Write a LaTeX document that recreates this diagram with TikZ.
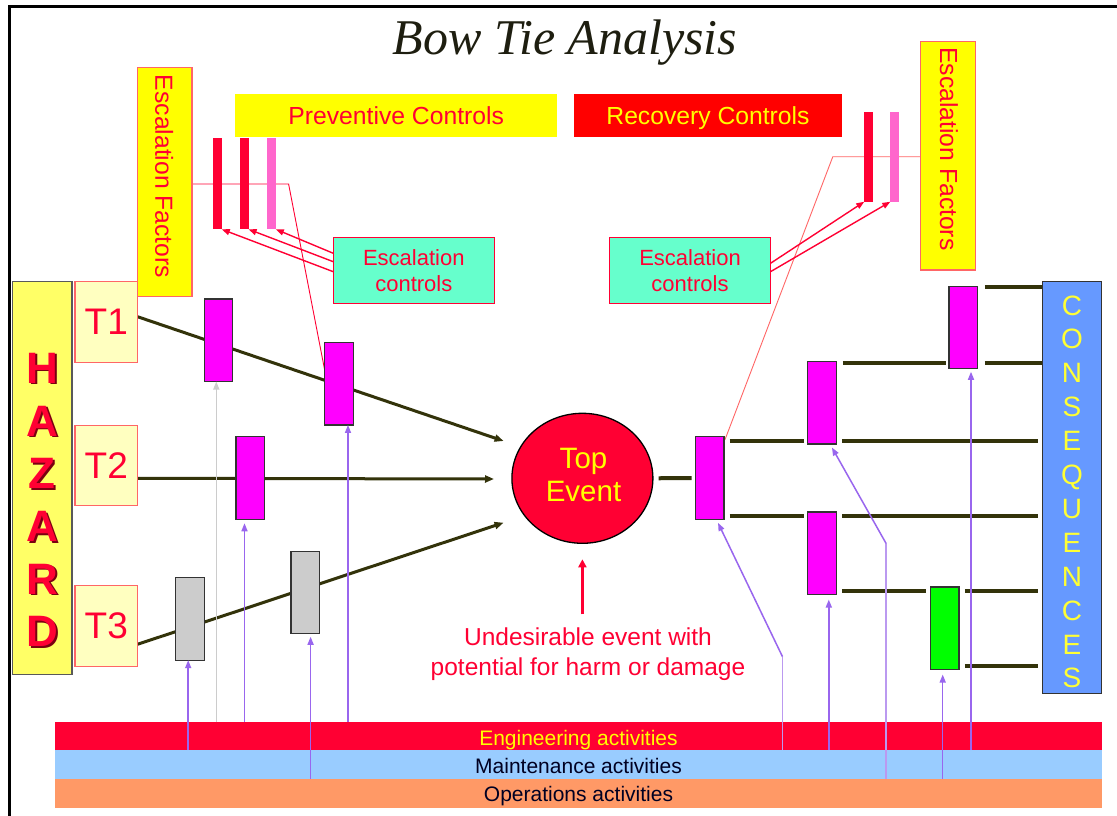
\documentclass[tikz,border=0pt]{standalone}
\usepackage{fontspec}
\setmainfont{Liberation Sans}
\newfontfamily\serifit{Liberation Serif}
\usetikzlibrary{arrows.meta,shapes.geometric,calc}
\pgfdeclarelayer{backdrop}
\pgfdeclarelayer{background}
\pgfsetlayers{backdrop,background,main}

\definecolor{alarm}{HTML}{FF0033}
\definecolor{hotred}{HTML}{FF0000}
\definecolor{sun}{HTML}{FFFF00}
\definecolor{lemon}{HTML}{FFFF66}
\definecolor{cream}{HTML}{FFFFC0}
\definecolor{rose}{HTML}{FF6666}
\definecolor{pinkbar}{HTML}{FF66CC}
\definecolor{aqua}{HTML}{66FFCC}
\definecolor{magentabox}{HTML}{FF00FF}
\definecolor{greybox}{HTML}{CCCCCC}
\definecolor{greenbox}{HTML}{00FF00}
\definecolor{consblue}{HTML}{6699FF}
\definecolor{olive}{HTML}{33330A}
\definecolor{violet}{HTML}{9966EE}
\definecolor{lilac}{HTML}{BB99F0}
\definecolor{paleline}{HTML}{CCCCCC}
\definecolor{maintblue}{HTML}{99CCFF}
\definecolor{opsorange}{HTML}{FF9966}
\definecolor{ink}{HTML}{1E1E10}
\definecolor{navyink}{HTML}{000022}
\definecolor{shadowred}{HTML}{7A0010}
\definecolor{consyellow}{HTML}{FFFF33}

\newcommand\setfs[2]{\fontsize{#1}{#2}\selectfont}
% letter with a small drop shadow behind it
\newcommand\dropshadow[1]{\rlap{\kern1.6pt\raisebox{-1.6pt}{\textcolor{shadowred}{#1}}}#1}

\begin{document}
\begin{tikzpicture}[x=1pt,y=-1pt,
  box/.style={draw, inner sep=0pt, outer sep=0pt, align=center},
  band/.style={inner sep=0pt, outer sep=0pt, minimum width=1047pt, font=\setfs{21}{25},
    text height=15pt, text depth=0pt},
  tbox/.style={box, fill=cream, draw=rose, line width=1.2pt, minimum width=62.5pt,
    minimum height=80.6pt, text=alarm, font=\setfs{37}{40}},
  barrier/.style={box, fill=magentabox, draw=black!80, line width=1.2pt,
    minimum width=28.5pt, minimum height=82.5pt},
  escbar/.style={inner sep=0pt, outer sep=0pt, minimum width=8.5pt, minimum height=91pt},
  factorbox/.style={box, fill=sun, draw=rose, line width=1.3pt},
  factortext/.style={rotate=-90, text=alarm, inner sep=0pt, font=\setfs{24.7}{29}},
  ctrl/.style={box, fill=aqua, draw=alarm, line width=1.2pt, minimum width=161pt,
    minimum height=65.6pt, text=alarm, font=\setfs{22}{25.5}},
  banner/.style={inner sep=0pt, outer sep=0pt, font=\setfs{24.7}{29},
    text height=17.7pt, text depth=0pt},
  threat/.style={draw=olive, line width=3pt, -{Triangle[length=9pt,width=7pt]}},
  path/.style={draw=olive, line width=4pt},
  escline/.style={draw=alarm, line width=0.9pt},
  escarrow/.style={draw=alarm, line width=1.4pt, -{Triangle[length=8pt,width=6pt]}},
  act/.style={draw=violet, line width=1.5pt, -{Triangle[length=8pt,width=6pt]}},
  actpale/.style={draw=paleline, line width=1.5pt, -{Triangle[length=8pt,width=6pt]}},
  actstem/.style={draw=lilac, line width=1.1pt},
  eventtext/.style={anchor=base, inner sep=0pt, text=sun, font=\setfs{29.5}{33}},
  hazletter/.style={anchor=base, inner sep=0pt, text=alarm, font=\bfseries\setfs{44}{48}},
  consletter/.style={anchor=base, inner sep=0pt, text=consyellow, font=\setfs{28}{32}}
]

\begin{pgfonlayer}{backdrop}
  \fill[white] (0,0) rectangle (1117,816);
\end{pgfonlayer}
\useasboundingbox (0,0) rectangle (1117,816);

% slide frame
\draw[line width=3pt] (9,816) -- (9,6.5) -- (1117,6.5);

% title
\node[font=\serifit\itshape\setfs{50}{60}, text=ink, anchor=base] (title) at (565,55) {Bow Tie Analysis};

% activity bands
\node[band, fill=alarm, text=sun, minimum height=28pt] (eng) at (578.5,736) {\raisebox{-2pt}{Engineering activities}};
\node[band, fill=maintblue, text=navyink, minimum height=29pt] (maint) at (578.5,764.5) {\raisebox{-1pt}{Maintenance activities}};
\node[band, fill=opsorange, text=navyink, minimum height=29pt] (ops) at (578.5,793.5) {Operations activities};

% hazard column
\node[box, fill=lemon, draw=black!65, line width=1.5pt, minimum width=59.6pt, minimum height=392.6pt] (hazard) at (42.3,478) {};
\foreach \l [count=\i from 0] in {H,A,Z,A,R,D} {
  \node[hazletter] (hz\i) at ({42.3},{383.3+52.7*\i}) {\dropshadow{\l}};
}

% threats
\node[tbox] (t1) at (106.25,322) {T1};
\node[tbox] (t2) at (106.25,465.4) {T2};
\node[tbox] (t3) at (106.25,625.9) {T3};

% preventive barriers
\node[barrier] (p1) at (218.5,340.3) {};
\node[barrier] (p2) at (339,383.7) {};
\node[barrier] (p3) at (250.2,478) {};
\node[barrier, fill=greybox] (g1) at (189.9,618.9) {};
\node[barrier, fill=greybox] (g2) at (305.3,592.5) {};

% top event
\node[ellipse, draw=black, line width=1.3pt, fill=alarm, minimum width=141pt, minimum height=130pt,
  inner sep=0pt, outer sep=0pt] (top) at (582.4,478.3) {};
\node[eventtext] (toptext1) at (583.5,468.3) {Top};
\node[eventtext] (toptext2) at (583.5,501.7) {Event};

% recovery barriers
\node[barrier] (r1) at (709.7,478) {};
\node[barrier] (r2) at (822,402.8) {};
\node[barrier] (r3) at (822,553.3) {};
\node[barrier] (r4) at (963.2,327.5) {};
\node[barrier, fill=greenbox] (green) at (944.7,628.3) {};

% consequences column
\node[box, fill=consblue, draw=black!80, line width=1.5pt, minimum width=59.3pt, minimum height=411.6pt] (cons) at (1072,487.5) {};
\foreach \l [count=\i from 0] in {C,O,N,S,E,Q,U,E,N,C,E,S} {
  \node[consletter] (cs\i) at ({1072},{315+33.9*\i}) {\l};
}

% headings
\node[banner, fill=sun, text=alarm, minimum width=321.6pt, minimum height=42.4pt] (prev) at (396.2,115.5) {Preventive Controls};
\node[banner, fill=hotred, text=sun, minimum width=267.5pt, minimum height=42.7pt] (rec) at (708,115.7) {Recovery Controls};

% escalation factors
\node[factorbox, minimum width=54.3pt, minimum height=229pt] (escL) at (164.7,182.2) {};
\node[factortext] (escLtext) at (164.3,176.5) {Escalation Factors};
\node[factorbox, minimum width=55pt, minimum height=228.3pt] (escR) at (948.1,155.9) {};
\node[factortext] (escRtext) at (949,149) {Escalation Factors};

% escalation barriers
\node[escbar, fill=alarm] (b1) at (217.5,183.8) {};
\node[escbar, fill=alarm] (b2) at (244.3,183.8) {};
\node[escbar, fill=pinkbar] (b3) at (271.6,183.8) {};
\node[escbar, fill=alarm, minimum height=89.7pt] (rb1) at (868.5,156.9) {};
\node[escbar, fill=pinkbar, minimum height=89.7pt] (rb2) at (894.6,156.9) {};

% escalation controls
\node[ctrl] (ecL) at (413.8,270.5) {Escalation\\controls};
\node[ctrl] (ecR) at (690,270.5) {Escalation\\controls};

% note under the top event
\node[anchor=base, text=alarm, inner sep=0pt, font=\setfs{24.5}{30}] (u1) at (588,645.7) {Undesirable event with};
\node[anchor=base, text=alarm, inner sep=0pt, font=\setfs{24.5}{30}] (u2) at (588,675.7) {potential for harm or damage};

\coordinate (kL) at (288.6,184);
\coordinate (kR) at (832.8,156.7);
\coordinate (in1) at ($(top.center)+(-78.8,-37.3)$);
\coordinate (in2) at ($(top.center)+(-88.4,0.7)$);
\coordinate (in3) at ($(top.center)+(-78.8,44.4)$);
\coordinate (bendA) at (782.5,656.7);
\coordinate (bendB) at (886,543.3);

\begin{pgfonlayer}{background}
  % links from escalation factors to the barriers they degrade
  \draw[escline] (escL.east |- 0,184) -- (kL) -- ($(p2.north west)+(0,28)$);
  \draw[escline, draw=rose] (escR.west |- 0,156.7) -- (kR) -- ($(r1.north east)+(1,3)$);
  % threat lines
  \draw[threat] (t1.east |- 0,316.7) -- (in1);
  \draw[threat] (t2.east |- top.west) -- (in2);
  \draw[threat] (t3.east |- 0,644.3) -- (in3);
  % consequence paths
  \draw[path, shorten <=5.8pt, shorten >=3.9pt] (top.east) -- (r1.west);
  \draw[path, shorten <=5.7pt, shorten >=3.9pt] (r1.east |- 0,440.7) -- (r2.west |- 0,440.7);
  \draw[path, shorten <=5.7pt, shorten >=3.9pt] (r1.east |- 0,516) -- (r3.west |- 0,516);
  \draw[path, shorten <=6.6pt, shorten >=2.5pt] (r2.east |- 0,363.3) -- (r4.west |- 0,363.3);
  \draw[path, shorten <=6pt, shorten >=3.9pt] (r2.east |- 0,440.7) -- (cons.west |- 0,440.7);
  \draw[path, shorten <=6pt, shorten >=3.9pt] (r3.east |- 0,516) -- (cons.west |- 0,516);
  \draw[path, shorten <=6pt, shorten >=4.6pt] (r3.east |- 0,591) -- (green.west |- 0,591);
  \draw[path, shorten <=7.5pt] (r4.east |- 0,287.3) -- (cons.west |- 0,287.3);
  \draw[path, shorten <=7.5pt] (r4.east |- 0,363.3) -- (cons.west |- 0,363.3);
  \draw[path, shorten <=6pt, shorten >=3.9pt] (green.east |- 0,591) -- (cons.west |- 0,591);
  \draw[path, shorten <=6pt, shorten >=3.9pt] (green.east |- 0,666) -- (cons.west |- 0,666);
\end{pgfonlayer}

% escalation controls acting on escalation barriers
\draw[escarrow] (ecL.west |- 0,253.3) -- (b3.south east);
\draw[escarrow] (ecL.west |- 0,261.7) -- (b2.south east);
\draw[escarrow] (ecL.west |- 0,271.7) -- (b1.south east);
\draw[escarrow] (ecR.east |- 0,263.3) -- (rb1.south west);
\draw[escarrow] (ecR.east |- 0,271.7) -- (rb2.south west);

% activities supporting the barriers
\draw[act] (maint.north -| 188.2,0) -- (g1.south -| 188.2,0);
\draw[actpale] (eng.north -| 216.3,0) -- (p1.south -| 216.3,0);
\draw[act, shorten >=4pt] (eng.north -| 244.5,0) -- (p3.south -| 244.5,0);
\draw[act, shorten >=3pt] (ops.north -| 310.6,0) -- (g2.south -| 310.6,0);
\draw[act] (eng.north -| 348,0) -- (p2.south -| 348,0);

\draw[actstem] (maint.north -| 782.5,0) -- (bendA);
\draw[act, shorten >=4pt] (bendA) -- (r1.south -| 716.3,0);
\draw[actstem] (ops.north -| 886,0) -- (bendB);
\draw[act, shorten >=4pt] (bendB) -- (r2.south -| 830,0);
\draw[act, shorten >=5pt] (maint.north -| 828.8,0) -- (r3.south -| 828.8,0);
\draw[act, shorten >=5pt] (ops.north -| 942.7,0) -- (green.south -| 942.7,0);
\draw[act, shorten >=3pt] (maint.north -| 971,0) -- (r4.south -| 971,0);

% pointer to the top event
\draw[draw=alarm, line width=3pt, -{Triangle[length=8pt,width=8pt]}] (top.south |- 0,614.3) -- ($(top.south)+(0,16)$);

\end{tikzpicture}
\end{document}
